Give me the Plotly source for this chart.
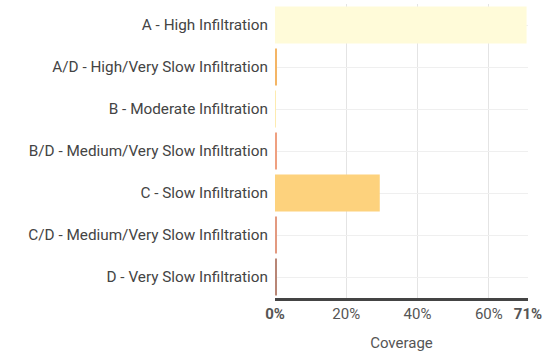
import plotly.graph_objects as go

categories = [
    "A - High Infiltration",
    "A/D - High/Very Slow Infiltration",
    "B - Moderate Infiltration",
    "B/D - Medium/Very Slow Infiltration",
    "C - Slow Infiltration",
    "C/D - Medium/Very Slow Infiltration",
    "D - Very Slow Infiltration",
]
coverage = [70.6, 0.4, 0.2, 0.3, 29.4, 0.4, 0.3]
colors = ["#FFFBD9", "#F4B565", "#FDEBB0", "#EFA080", "#FDD27D", "#E39A80", "#B88676"]
tick_vals = [0, 20, 40, 60, 71]
tick_text = ["<b>0%</b>", "20%", "40%", "60%", "<b>71%</b>"]

fig = go.Figure(go.Bar(
    x=coverage, y=categories, orientation="h",
    marker=dict(color=colors, line=dict(width=0)),
    hoverinfo="x+y",
))
fig.update_layout(
    width=558, height=353,
    margin=dict(l=275, r=30, t=4, b=55, autoexpand=False),
    paper_bgcolor="white", plot_bgcolor="white",
    font=dict(family="Roboto", color="#555555", size=15),
    bargap=0.12,
    showlegend=False,
)
fig.update_xaxes(
    range=[0, 71], tickvals=tick_vals, ticktext=tick_text,
    showgrid=True, gridcolor="#E4E4E4", gridwidth=1,
    showline=True, linecolor="#444444", linewidth=3,
    zeroline=False, ticks="", tickfont=dict(size=15, color="#555555"),
    title=dict(text="Coverage", font=dict(size=15, color="#555555"), standoff=16),
    automargin=False,
)
fig.update_yaxes(
    autorange="reversed", showgrid=True, gridcolor="#EFEFEF",
    ticks="", ticklabelstandoff=6, tickfont=dict(size=15.3, color="#444444"),
    zeroline=False, showline=False, automargin=False,
)
fig.write_html(
    "out.html",
    config={"displayModeBar": False},
    post_script="document.body.style.margin='0';document.body.style.overflow='hidden';",
)
